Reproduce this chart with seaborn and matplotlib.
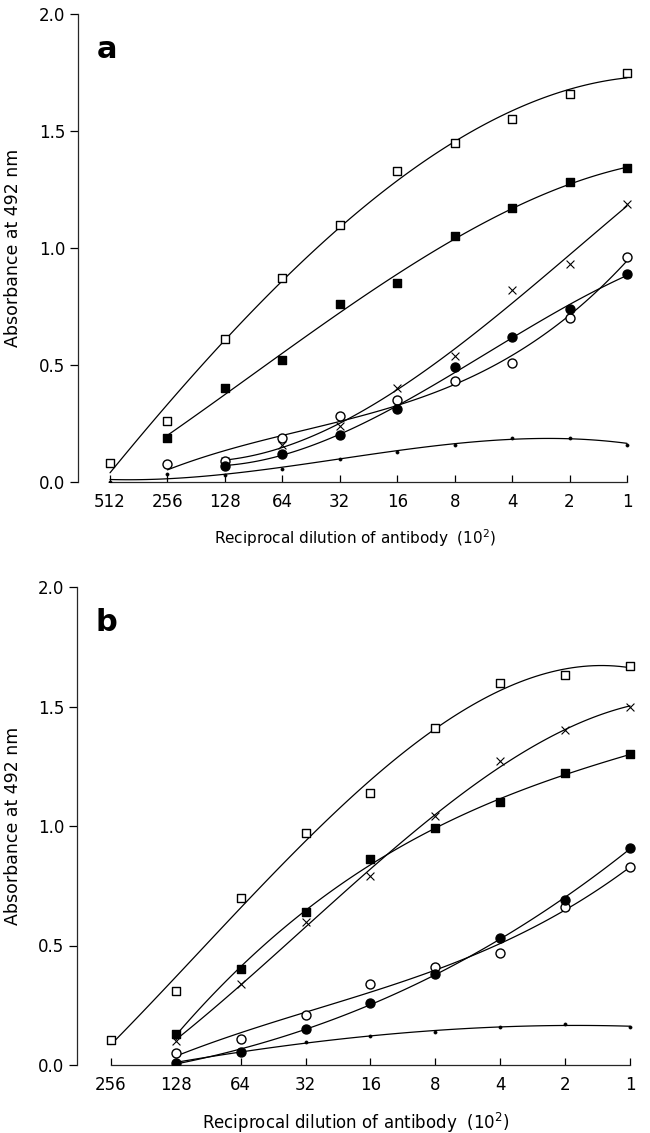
import numpy as np
import pandas as pd
import matplotlib
matplotlib.use("Agg")
import matplotlib.pyplot as plt
import seaborn as sns

sns.set_style("ticks")
plt.rcParams['font.family'] = ['DejaVu Sans']
plt.rcParams['text.color'] = 'black'
plt.rcParams['axes.labelcolor'] = 'black'
plt.rcParams['xtick.color'] = 'black'
plt.rcParams['ytick.color'] = 'black'

# panel a data
dil_a = [512, 256, 128, 64, 32, 16, 8, 4, 2, 1]
a_open_sq = [0.08, 0.26, 0.61, 0.87, 1.10, 1.33, 1.45, 1.55, 1.66, 1.75]
a_fill_sq = [np.nan, 0.19, 0.40, 0.52, 0.76, 0.85, 1.05, 1.17, 1.28, 1.34]
a_cross = [np.nan, np.nan, 0.09, 0.16, 0.24, 0.40, 0.54, 0.82, 0.93, 1.19]
a_open_ci = [np.nan, 0.077, 0.09, 0.19, 0.28, 0.35, 0.43, 0.51, 0.70, 0.96]
a_fill_ci = [np.nan, np.nan, 0.07, 0.12, 0.20, 0.31, 0.49, 0.62, 0.74, 0.89]
a_dot = [0.0, 0.035, 0.03, 0.055, 0.10, 0.13, 0.16, 0.19, 0.19, 0.16]

# panel b data
dil_b = [256, 128, 64, 32, 16, 8, 4, 2, 1]
b_open_sq = [0.105, 0.31, 0.70, 0.97, 1.14, 1.41, 1.60, 1.63, 1.67]
b_fill_sq = [np.nan, 0.13, 0.40, 0.64, 0.86, 0.99, 1.10, 1.22, 1.30]
b_cross = [np.nan, 0.10, 0.34, 0.60, 0.79, 1.04, 1.27, 1.40, 1.50]
b_open_ci = [np.nan, 0.05, 0.11, 0.21, 0.34, 0.41, 0.47, 0.66, 0.83]
b_fill_ci = [np.nan, 0.01, 0.055, 0.15, 0.26, 0.38, 0.53, 0.69, 0.91]
b_dot = [np.nan, 0.01, 0.055, 0.095, 0.12, 0.14, 0.16, 0.17, 0.16]

styles = {
    "open_sq": dict(marker="s", facecolor="white", edgecolor="black", s=38, linewidth=1.0),
    "fill_sq": dict(marker="s", facecolor="black", edgecolor="black", s=38, linewidth=1.0),
    "cross": dict(marker="x", color="black", s=32, linewidth=0.8),
    "open_ci": dict(marker="o", facecolor="white", edgecolor="black", s=42, linewidth=1.0),
    "fill_ci": dict(marker="o", facecolor="black", edgecolor="black", s=42, linewidth=1.0),
    "dot": dict(marker="o", facecolor="black", edgecolor="black", s=5, linewidth=0.5),
}


def draw_panel(ax, dil, series, label, xlab_size):
    pos = np.log2(max(dil) / np.array(dil, dtype=float))
    for key, vals in series:
        df = pd.DataFrame({"x": pos, "y": vals}).dropna()
        sns.regplot(data=df, x="x", y="y", order=3, ci=None, scatter=False, ax=ax,
                    line_kws=dict(color="black", lw=0.9, zorder=2))
        sns.scatterplot(data=df, x="x", y="y", ax=ax, zorder=3, legend=False,
                        **styles[key])
    n = len(dil)
    ax.set_xticks(np.arange(n))
    ax.set_xticklabels([str(d) for d in dil])
    ax.set_yticks([0.0, 0.5, 1.0, 1.5, 2.0])
    ax.set_yticklabels(["0.0", "0.5", "1.0", "1.5", "2.0"])
    ax.set_ylim(0, 2.0)
    ax.spines["top"].set_visible(False)
    ax.spines["right"].set_visible(False)
    ax.spines["bottom"].set_bounds(0, n - 1)
    ax.tick_params(axis="x", direction="in", length=5, width=0.9, pad=8, labelsize=12)
    ax.tick_params(axis="y", direction="out", length=6, width=0.9, pad=3, labelsize=12)
    for s in ax.spines.values():
        s.set_linewidth(0.9)
    ax.set_xlabel("Reciprocal dilution of antibody  (10$^2$)", fontsize=xlab_size, labelpad=12)
    ax.set_ylabel("Absorbance at 492 nm", fontsize=12.5)
    ax.text(0.034, 0.925, label, transform=ax.transAxes, fontsize=22, fontweight="bold",
            va="center", ha="left")


fig = plt.figure(figsize=(6.5, 11.33), dpi=100)
ax_a = fig.add_axes([78 / 650, 1 - 482 / 1133, (632 - 78) / 650, (482 - 14) / 1133])
ax_b = fig.add_axes([77 / 650, 1 - 1065 / 1133, (635 - 77) / 650, (1065 - 587) / 1133])

draw_panel(ax_a, dil_a,
           [("open_sq", a_open_sq), ("fill_sq", a_fill_sq), ("cross", a_cross),
            ("open_ci", a_open_ci), ("fill_ci", a_fill_ci), ("dot", a_dot)], "a", 11)
ax_a.set_xlim((78 - 110) / 57.4, 9 + 5 / 57.4)
ax_a.yaxis.set_label_coords((22 - 78) / 554, 0.5)

draw_panel(ax_b, dil_b,
           [("open_sq", b_open_sq), ("fill_sq", b_fill_sq), ("cross", b_cross),
            ("open_ci", b_open_ci), ("fill_ci", b_fill_ci), ("dot", b_dot)], "b", 12)
ax_b.set_xlim((77 - 111) / 64.9, 8 + 5 / 64.9)
ax_b.yaxis.set_label_coords((22 - 77) / 558, 0.5)

fig.savefig("out.png", dpi=100)
